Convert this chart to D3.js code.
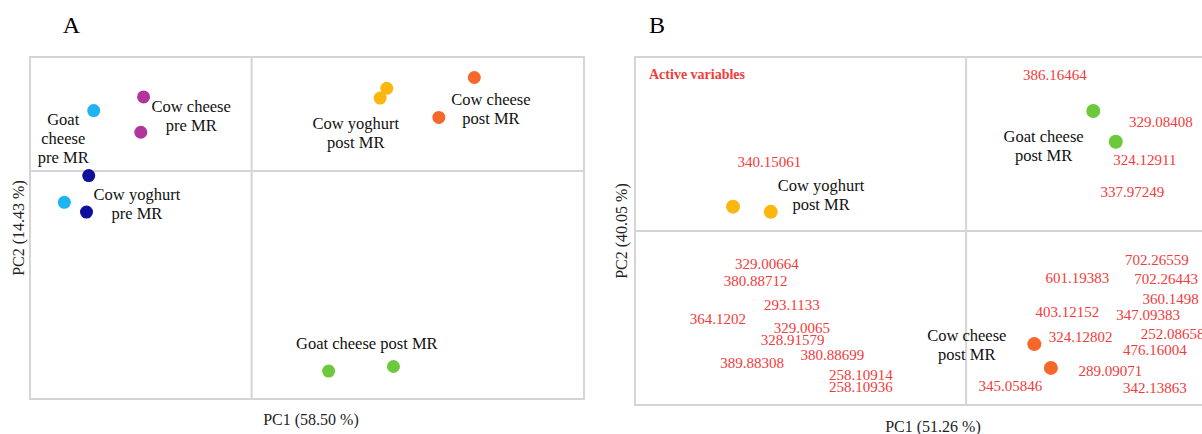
<!DOCTYPE html>
<html>
<head>
<meta charset="utf-8">
<script src="https://cdn.jsdelivr.net/npm/d3@7"></script>
<style>
  html, body { margin: 0; padding: 0; background: #fff; }
  svg { display: block; }
  text { font-family: "Liberation Serif", "Times New Roman", serif; }
</style>
</head>
<body>
<svg id="chart" width="1202" height="434"></svg>
<script>
// ---------------- DATA ----------------
const groups = ["Goat cheese pre MR", "Cow cheese pre MR", "Cow yoghurt pre MR",
                "Cow yoghurt post MR", "Cow cheese post MR", "Goat cheese post MR"];
const groupColors = ["#1fb4ef", "#b3359b", "#0f0f9e", "#fbb710", "#f4692a", "#6cc93c"];

// Panel A — sample scores
const scoreGroupA = [0, 0, 1, 1, 2, 2, 3, 3, 4, 4, 5, 5];
const scorePC1A   = [-2.85, -3.38, -1.95, -2.00, -2.94, -2.98, 2.44, 2.32, 4.02, 3.38, 1.39, 2.56];
const scorePC2A   = [1.06, -0.55, 1.30, 0.68, -0.08, -0.72, 1.45, 1.28, 1.64, 0.94, -3.51, -3.43];
const pcLabelsA   = ["PC1 (58.50 %)", "PC2 (14.43 %)"];

// Panel A — group labels (lines, anchor in PC units)
const groupLinesA = [["Goat", "cheese", "pre MR"], ["Cow cheese", "pre MR"], ["Cow yoghurt", "pre MR"],
                     ["Cow yoghurt", "post MR"], ["Cow cheese", "post MR"], ["Goat cheese post MR"]];
const groupLabelPC1A = [-3.40, -1.09, -2.07, 1.88, 4.32, 2.08];
const groupLabelPC2A = [0.91, 1.13, -0.42, 0.84, 1.25, -3.02];

// Panel B — sample scores (post MR only)
const scoreGroupB = [3, 3, 5, 5, 4, 4];
const scorePC1B   = [-3.52, -2.95, 1.92, 2.26, 1.03, 1.28];
const scorePC2B   = [0.42, 0.33, 2.07, 1.54, -1.95, -2.36];
const pcLabelsB   = ["PC1 (51.26 %)", "PC2 (40.05 %)"];

const groupLinesB = [["Cow yoghurt", "post MR"], ["Goat cheese", "post MR"], ["Cow cheese", "post MR"]];
const groupLabelPC1B = [-2.19, 1.17, 0.01];
const groupLabelPC2B = [0.79, 1.63, -1.81];

// Panel B — active variables (m/z)
const variableNames = ["340.15061", "386.16464", "329.08408", "324.12911", "337.97249",
  "329.00664", "380.88712", "293.1133", "364.1202", "329.0065", "328.91579", "380.88699",
  "389.88308", "258.10914", "258.10936", "702.26559", "601.19383", "702.26443", "360.1498",
  "403.12152", "347.09383", "252.08658", "324.12802", "476.16004", "289.09071", "345.05846",
  "342.13863"];
const variablePC1 = [-2.97, 1.34, 2.94, 2.70, 2.51,
  -3.01, -3.18, -2.63, -3.75, -2.48, -2.62, -2.02,
  -3.23, -1.59, -1.59, 2.88, 1.68, 3.02, 3.09,
  1.53, 2.75, 3.12, 1.73, 2.85, 2.18, 0.67,
  2.85];
const variablePC2 = [1.20, 2.70, 1.88, 1.22, 0.68,
  -0.57, -0.86, -1.28, -1.52, -1.67, -1.88, -2.13,
  -2.28, -2.47, -2.68, -0.49, -0.81, -0.83, -1.16,
  -1.39, -1.44, -1.78, -1.82, -2.04, -2.41, -2.66,
  -2.71];

// ---------------- DRAW ----------------
const svg = d3.select("#chart");
const frameColor = "#d5d5d5";
const redText = "#f23b3b";

function drawFrame(x, y) {
  const [x0, x1] = x.range();
  const [y0, y1] = y.range();
  const g = svg.append("g");
  g.append("rect").attr("x", x0).attr("y", y1).attr("width", x1 - x0).attr("height", y0 - y1)
    .attr("fill", "none").attr("stroke", frameColor).attr("stroke-width", 2);
  g.append("line").attr("x1", x(0)).attr("x2", x(0)).attr("y1", y1).attr("y2", y0)
    .attr("stroke", frameColor).attr("stroke-width", 2);
  g.append("line").attr("x1", x0).attr("x2", x1).attr("y1", y(0)).attr("y2", y(0))
    .attr("stroke", frameColor).attr("stroke-width", 2);
}

function drawGroupLabels(lines, px, py, x, y, idx) {
  idx.forEach((gi, k) => {
    const t = svg.append("text")
      .attr("x", x(px[k])).attr("y", y(py[k]))
      .attr("text-anchor", "middle")
      .attr("font-size", 16.5).attr("fill", "#111");
    lines[k].forEach((ln, j) => {
      t.append("tspan").attr("x", x(px[k])).attr("dy", j === 0 ? "0.33em" : 19).text(ln);
    });
  });
}

function drawPoints(gidx, pc1, pc2, x, y, r) {
  svg.append("g").selectAll("circle").data(gidx).join("circle")
    .attr("cx", (d, i) => x(pc1[i])).attr("cy", (d, i) => y(pc2[i]))
    .attr("r", r).attr("fill", d => groupColors[d]);
}

// Panel A
const xA = d3.scaleLinear().domain([-4, 6]).range([30, 584]);
const yA = d3.scaleLinear().domain([-4, 2]).range([399, 57]);
drawFrame(xA, yA);
drawGroupLabels(groupLinesA, groupLabelPC1A, groupLabelPC2A, xA, yA, d3.range(groupLinesA.length));
drawPoints(scoreGroupA, scorePC1A, scorePC2A, xA, yA, 6.5);
svg.append("text").attr("x", 71.5).attr("y", 33).attr("text-anchor", "middle")
  .attr("font-size", 24).text("A");
svg.append("text").attr("x", (xA.range()[0] + xA.range()[1]) / 2 + 4).attr("y", 425)
  .attr("text-anchor", "middle").attr("font-size", 16).attr("fill", "#222").text(pcLabelsA[0]);
svg.append("text").attr("transform", `translate(24,${(yA.range()[0] + yA.range()[1]) / 2}) rotate(-90)`)
  .attr("text-anchor", "middle").attr("font-size", 16).attr("fill", "#222").text(pcLabelsA[1]);

// Panel B
const xB = d3.scaleLinear().domain([-5, 4]).range([635, 1231]);
const yB = d3.scaleLinear().domain([-3, 3]).range([405, 57]);
drawFrame(xB, yB);
svg.append("text").attr("x", 649).attr("y", 74.3).attr("dy", "0.35em")
  .attr("font-size", 14).attr("font-weight", "bold").attr("fill", redText).text("Active variables");
svg.append("g").selectAll("text").data(variableNames).join("text")
  .attr("x", (d, i) => xB(variablePC1[i])).attr("y", (d, i) => yB(variablePC2[i]))
  .attr("dy", "0.35em").attr("text-anchor", "middle")
  .attr("font-size", 15).attr("fill", redText).text(d => d);
drawGroupLabels(groupLinesB, groupLabelPC1B, groupLabelPC2B, xB, yB, d3.range(groupLinesB.length));
drawPoints(scoreGroupB, scorePC1B, scorePC2B, xB, yB, 7);
svg.append("text").attr("x", 657).attr("y", 33).attr("text-anchor", "middle")
  .attr("font-size", 24).text("B");
svg.append("text").attr("x", 933).attr("y", 432)
  .attr("text-anchor", "middle").attr("font-size", 16).attr("fill", "#222").text(pcLabelsB[0]);
svg.append("text").attr("transform", `translate(627,${(yB.range()[0] + yB.range()[1]) / 2}) rotate(-90)`)
  .attr("text-anchor", "middle").attr("font-size", 16).attr("fill", "#222").text(pcLabelsB[1]);
</script>
</body>
</html>
